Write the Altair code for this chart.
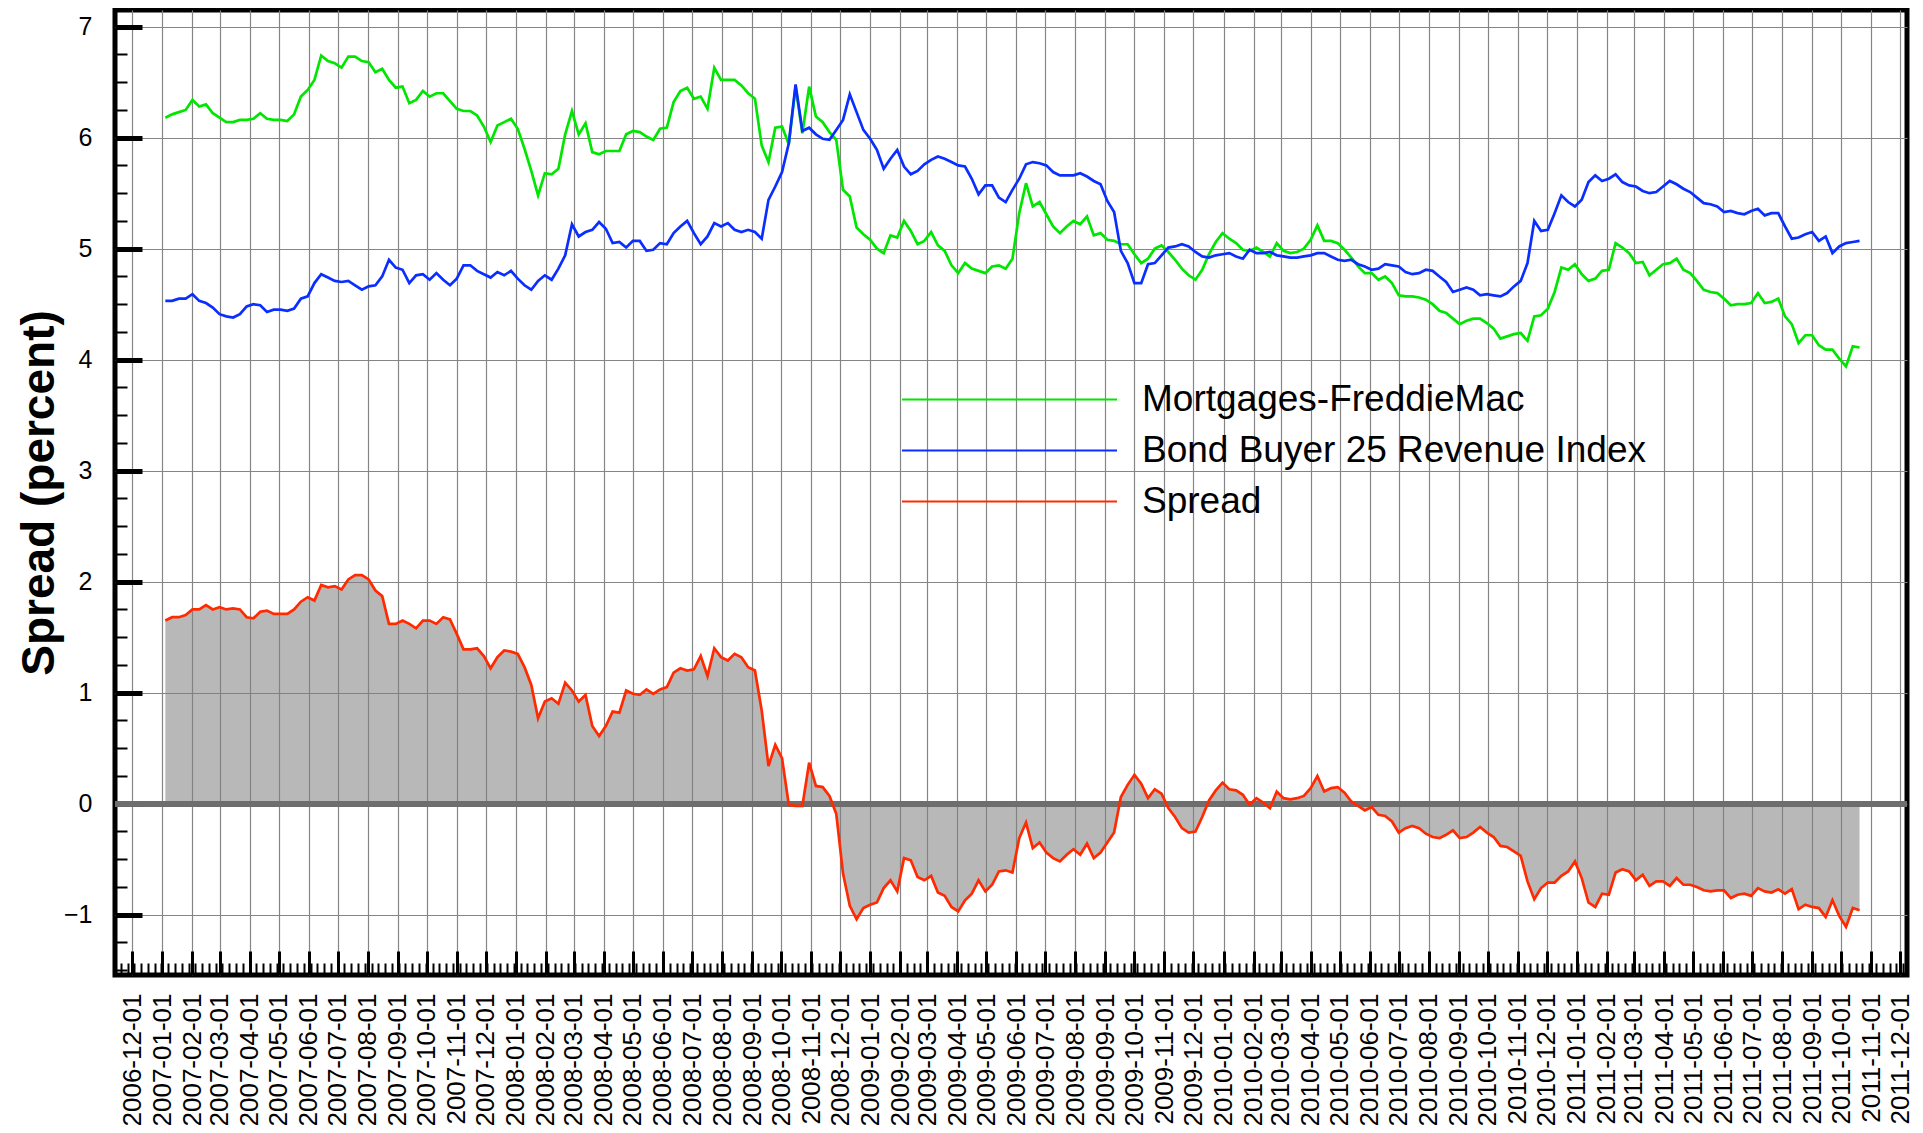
import altair as alt
import pandas as pd

# ---------------- data (weekly) ----------------
first_date = "2007-01-04"
n_weeks = 251
dates = pd.date_range(first_date, periods=n_weeks, freq="7D").strftime("%Y-%m-%d").tolist()

mortgage = [
    6.18, 6.21, 6.23, 6.25, 6.34, 6.28, 6.30, 6.22, 6.18, 6.14,
    6.14, 6.16, 6.16, 6.17, 6.22, 6.17, 6.16, 6.16, 6.15, 6.21,
    6.37, 6.43, 6.52, 6.74, 6.69, 6.67, 6.63, 6.73, 6.73, 6.69,
    6.68, 6.59, 6.62, 6.52, 6.45, 6.46, 6.31, 6.34, 6.42, 6.37,
    6.40, 6.40, 6.33, 6.26, 6.24, 6.24, 6.20, 6.10, 5.96, 6.11,
    6.14, 6.17, 6.08, 5.90, 5.70, 5.48, 5.68, 5.67, 5.72, 6.03,
    6.24, 6.03,
    6.13, 5.87, 5.85, 5.88, 5.88, 5.88, 6.03, 6.06, 6.05, 6.01,
    5.98, 6.08, 6.09, 6.32, 6.42, 6.45, 6.35, 6.37, 6.26, 6.63,
    6.52, 6.52, 6.52, 6.47, 6.40, 6.35, 5.93, 5.78, 6.09, 6.10,
    5.94, 6.46, 6.04, 6.46, 6.19, 6.14, 6.05, 5.98, 5.53, 5.47,
    5.19, 5.13, 5.08, 5.00, 4.96, 5.12, 5.10, 5.25, 5.16, 5.04,
    5.07, 5.15, 5.03, 4.98, 4.85, 4.78, 4.87, 4.82, 4.80, 4.78,
    4.84, 4.85,
    4.82, 4.91, 5.32, 5.59, 5.38, 5.42, 5.31, 5.20, 5.14, 5.20,
    5.25, 5.22, 5.29, 5.12, 5.14, 5.08, 5.07, 5.04, 5.04, 4.95,
    4.87, 4.91, 5.00, 5.03, 4.97, 4.90, 4.82, 4.76, 4.72, 4.81,
    4.95, 5.06, 5.14, 5.09, 5.05, 4.99, 4.98, 5.01, 4.97, 4.93,
    5.05, 4.98, 4.96, 4.97, 5.00, 5.08, 5.21, 5.07, 5.07, 5.05,
    4.99, 4.92, 4.84, 4.78, 4.78, 4.72, 4.75, 4.69, 4.58, 4.57,
    4.57, 4.56,
    4.54, 4.50, 4.44, 4.42, 4.37, 4.32, 4.35, 4.37, 4.37, 4.33,
    4.28, 4.19, 4.21, 4.23, 4.24, 4.17, 4.39, 4.40, 4.46, 4.61,
    4.83, 4.81, 4.86, 4.77, 4.71, 4.73, 4.80, 4.81, 5.05, 5.01,
    4.96, 4.87, 4.88, 4.76, 4.81, 4.86, 4.87, 4.91, 4.81, 4.78,
    4.71, 4.63, 4.61, 4.60, 4.55, 4.49, 4.50, 4.50, 4.51, 4.60,
    4.51, 4.52, 4.55, 4.39, 4.32, 4.15, 4.22, 4.22, 4.13, 4.09,
    4.09, 4.01, 3.94, 4.12, 4.11,
]

bond = [
    4.53, 4.53, 4.55, 4.55, 4.59, 4.53, 4.51, 4.47, 4.41, 4.39,
    4.38, 4.41, 4.48, 4.50, 4.49, 4.43, 4.45, 4.45, 4.44, 4.46,
    4.55, 4.57, 4.69, 4.77, 4.74, 4.71, 4.70, 4.71, 4.67, 4.63,
    4.66, 4.67, 4.75, 4.90, 4.83, 4.81, 4.69, 4.76, 4.77, 4.72,
    4.78, 4.72, 4.67, 4.73, 4.85, 4.85, 4.80, 4.77, 4.74, 4.79,
    4.76, 4.80, 4.73, 4.67, 4.63, 4.71, 4.76, 4.72, 4.82, 4.94,
    5.22, 5.11,
    5.15, 5.17, 5.24, 5.18, 5.05, 5.06, 5.01, 5.07, 5.07, 4.98,
    4.99, 5.05, 5.04, 5.14, 5.20, 5.25, 5.14, 5.04, 5.11, 5.23,
    5.20, 5.23, 5.17, 5.15, 5.17, 5.15, 5.09, 5.44, 5.56, 5.69,
    5.95, 6.48, 6.06, 6.09, 6.03, 5.99, 5.98, 6.07, 6.16, 6.39,
    6.23, 6.07, 5.99, 5.89, 5.72, 5.81, 5.89, 5.74, 5.67, 5.70,
    5.76, 5.80, 5.83, 5.81, 5.78, 5.75, 5.74, 5.63, 5.49, 5.57,
    5.57, 5.46,
    5.42, 5.53, 5.63, 5.76, 5.78, 5.77, 5.75, 5.69, 5.66, 5.66,
    5.66, 5.68, 5.65, 5.61, 5.58, 5.43, 5.33, 4.98, 4.87, 4.69,
    4.69, 4.86, 4.87, 4.94, 5.01, 5.02, 5.04, 5.02, 4.97, 4.93,
    4.92, 4.94, 4.95, 4.96, 4.93, 4.91, 4.99, 4.96, 4.96, 4.97,
    4.94, 4.93, 4.92, 4.92, 4.93, 4.94, 4.96, 4.96, 4.93, 4.90,
    4.89, 4.90, 4.86, 4.84, 4.81, 4.82, 4.86, 4.85, 4.84, 4.79,
    4.77, 4.78,
    4.81, 4.80, 4.75, 4.70, 4.61, 4.63, 4.65, 4.63, 4.58, 4.59,
    4.58, 4.57, 4.60, 4.66, 4.71, 4.87, 5.25, 5.16, 5.17, 5.32,
    5.48, 5.42, 5.38, 5.44, 5.60, 5.66, 5.61, 5.63, 5.67, 5.60,
    5.57, 5.56, 5.52, 5.50, 5.51, 5.56, 5.61, 5.58, 5.54, 5.51,
    5.46, 5.41, 5.40, 5.38, 5.33, 5.34, 5.32, 5.31, 5.34, 5.36,
    5.30, 5.32, 5.32, 5.20, 5.09, 5.10, 5.13, 5.15, 5.07, 5.11,
    4.96, 5.02, 5.05, 5.06, 5.07,
]

series_keys = ["mortgage", "bond", "spread"]
series_names = ["Mortgages-FreddieMac", "Bond Buyer 25 Revenue Index", "Spread"]
series_colors = ["#00e600", "#0a2eff", "#ff2a00"]

month_ticks = pd.date_range("2006-12-01", "2011-12-01", freq="MS")
y_major = list(range(-1, 8))
y_minor = [q / 4 for q in range(-6, 29) if q % 4 != 0]
x_domain = ["2006-11-13", "2011-12-08"]
y_domain = [-1.543, 7.15]
y_title = "Spread (percent)"

# ---------------- chart ----------------
W, H = 1792, 965
FONT = "Liberation Sans"

df = pd.DataFrame({"date": dates, "mortgage": mortgage, "bond": bond})


def utc(s):
    d = pd.Timestamp(s)
    return alt.DateTime(year=d.year, month=d.month, date=d.day, utc=True)


month_vals = [utc(d) for d in month_ticks]
xscale = alt.Scale(type="utc", domain=[utc(x_domain[0]), utc(x_domain[1])])
yscale = alt.Scale(domain=y_domain, nice=False, zero=False)
cscale = alt.Scale(domain=series_names, range=series_colors)

# wide line symbol: custom path scaled by sqrt(size)/2 -> length 5*sqrt(size)
legend = alt.Legend(
    orient="none", legendX=872, legendY=367, title=None,
    symbolType="M-5,0H5", symbolSize=1849, symbolStrokeWidth=2,
    labelFontSize=37, labelFont=FONT, labelColor="black", labelLimit=0,
    labelOffset=110, rowPadding=10, padding=0,
)

name_expr = ("datum.key == 'mortgage' ? '%s' : datum.key == 'bond' ? '%s' : '%s'"
             % tuple(series_names))

base = alt.Chart(df).transform_calculate(spread="datum.mortgage - datum.bond")
long = base.transform_fold(series_keys, as_=["key", "value"]).transform_calculate(series=name_expr)

x_main_axis = alt.Axis(
    values=month_vals, labelExpr="utcFormat(datum.value, '%Y-%m-%d')", labelAngle=270,
    labelFontSize=26, labelFont=FONT, labelColor="black", labelPadding=18,
    labelOverlap=False, labelFlush=False, ticks=False, domain=False,
    grid=True, gridColor="#858585", gridWidth=1.2, title=None,
)
y_main_axis = alt.Axis(
    values=y_major, labelFontSize=25, labelFont=FONT, labelColor="black",
    labelPadding=23, labelFlush=False, ticks=False, domain=False,
    grid=True, gridColor="#858585", gridWidth=1.2,
    title=y_title, titleFont=FONT, titleFontSize=46, titleFontWeight="bold",
    titleColor="black", titleAngle=270, titleX=-76, titleY=H / 2,
    titleAlign="center", titleBaseline="middle",
)
x_major_ticks = alt.Axis(orient="top", offset=-H, values=month_vals, labels=False,
                         domain=False, grid=False, tickSize=24, tickWidth=3,
                         tickColor="black", title=None)
x_minor_ticks = alt.Axis(orient="top", offset=-H, tickCount={"interval": "week", "step": 1},
                         labels=False, domain=False, grid=False, tickSize=12,
                         tickWidth=2, tickColor="black", title=None)
y_major_ticks = alt.Axis(orient="right", offset=-W, values=y_major, labels=False,
                         domain=False, grid=False, tickSize=27, tickWidth=5,
                         tickColor="black", title=None)
y_minor_ticks = alt.Axis(orient="right", offset=-W, values=y_minor, labels=False,
                         domain=False, grid=False, tickSize=12, tickWidth=2,
                         tickColor="black", title=None)

area = base.mark_area(color="#808080", opacity=0.56).encode(
    x=alt.X("date:T", scale=xscale, axis=x_main_axis),
    y=alt.Y("spread:Q", scale=yscale, axis=y_main_axis),
    y2=alt.datum(0),
)

zero = alt.Chart(df).mark_rule(color="#6e6e6e", strokeWidth=5).encode(
    y=alt.YDatum(0, axis=None),
)


def line_layer(key, xaxis, yaxis):
    return long.transform_filter(alt.datum.key == key).mark_line(strokeWidth=2.7).encode(
        x=alt.X("date:T", scale=xscale, axis=xaxis),
        y=alt.Y("value:Q", scale=yscale, axis=yaxis),
        color=alt.Color("series:N", scale=cscale, legend=legend),
    )


green = line_layer("mortgage", x_major_ticks, y_major_ticks)
blue = line_layer("bond", x_minor_ticks, y_minor_ticks)
red = line_layer("spread", None, None)

chart = alt.layer(area, zero, green, blue, red).resolve_axis(
    x="independent", y="independent"
).properties(
    width=W, height=H,
    autosize=alt.AutoSizeParams(type="none"),
    padding={"left": 107, "top": 2, "right": 8, "bottom": 150},
).configure_view(stroke="black", strokeWidth=5)

chart.save("out.html", embed_options={"renderer": "svg", "actions": False})
